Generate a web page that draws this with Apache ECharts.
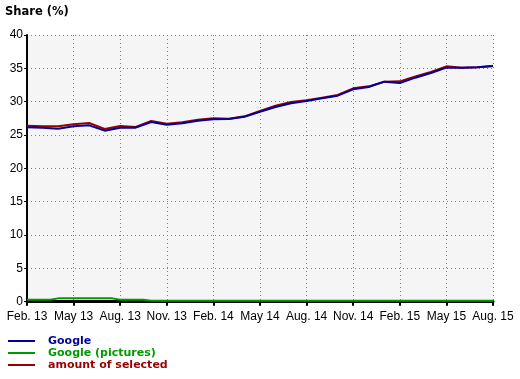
<!DOCTYPE html>
<html>
<head>
<meta charset="utf-8">
<script src="https://cdn.jsdelivr.net/npm/echarts@6/dist/echarts.min.js"></script>
<style>
html,body{margin:0;padding:0;background:#fff;}
#chart{width:520px;height:379px;}
</style>
</head>
<body>
<div id="chart"></div>
<script>
var months = ['Feb. 13','Mar. 13','Apr. 13','May 13','Jun. 13','Jul. 13','Aug. 13','Sep. 13','Oct. 13','Nov. 13','Dec. 13','Jan. 14',
  'Feb. 14','Mar. 14','Apr. 14','May 14','Jun. 14','Jul. 14','Aug. 14','Sep. 14','Oct. 14','Nov. 14','Dec. 14','Jan. 15',
  'Feb. 15','Mar. 15','Apr. 15','May 15','Jun. 15','Jul. 15','Aug. 15'];
var google = [26.15,26.1,25.95,26.3,26.45,25.65,26.1,26.1,26.95,26.55,26.75,27.15,
  27.35,27.4,27.75,28.5,29.2,29.75,30.1,30.5,30.9,31.85,32.2,33.0,
  32.8,33.6,34.3,35.1,35.1,35.15,35.35];
var googlePictures = [0.3,0.3,0.5,0.5,0.5,0.5,0.3,0.3,0.15,0.15,0.15,0.15,
  0.15,0.15,0.15,0.15,0.15,0.15,0.15,0.15,0.15,0.15,0.15,0.15,
  0.15,0.15,0.15,0.15,0.15,0.15,0.15];
var amountSelected = [26.4,26.3,26.3,26.6,26.8,25.9,26.35,26.2,27.1,26.7,26.9,27.3,
  27.5,27.45,27.8,28.6,29.4,29.95,30.2,30.6,31.0,32.0,32.3,33.0,
  33.05,33.8,34.45,35.3,35.1,35.15,35.35];
var seriesNames = ['Google','Google (pictures)','amount of selected'];
var seriesColors = ['#000099','#009900','#990000'];
var yTicks = [0,5,10,15,20,25,30,35,40];

var chart = echarts.init(document.getElementById('chart'), null, {renderer:'canvas'});
var gridDot = {color:'#808080', width:1, type:[1,3]};
chart.setOption({
  animation:false,
  backgroundColor:'#ffffff',
  title:{text:'Share (%)', left:5, top:6, padding:0,
    textStyle:{fontFamily:'DejaVu Sans', fontWeight:'bold', fontSize:11.5, color:'#000'}},
  legend:{
    orient:'vertical', left:8, top:335, padding:0, height:60, itemGap:0, itemWidth:27, itemHeight:2,
    icon:'rect', selectedMode:false,
    textStyle:{fontFamily:'DejaVu Sans', fontWeight:'bold', fontSize:11, lineHeight:12, padding:[0,0,0,8]},
    data:seriesNames.map(function(n,i){return {name:n, textStyle:{color:seriesColors[i]}};})
  },
  grid:{left:27, right:27, top:35, bottom:77.3, show:true, backgroundColor:'#f5f5f5', borderWidth:0},
  xAxis:{
    type:'category', data:months, boundaryGap:false, offset:3,
    axisLine:{lineStyle:{color:'#000', width:3}},
    axisTick:{show:true, interval:2, length:4, lineStyle:{color:'#000', width:2}},
    axisLabel:{interval:2, margin:6, color:'#000', fontFamily:'Liberation Sans', fontSize:12},
    splitLine:{show:true, interval:2, lineStyle:gridDot}
  },
  yAxis:{
    type:'value', min:yTicks[0], max:yTicks[yTicks.length-1], interval:5,
    axisLine:{show:true, lineStyle:{color:'#000', width:2}},
    axisTick:{show:true, length:3, lineStyle:{color:'#000', width:1}},
    axisLabel:{margin:4, color:'#000', fontFamily:'Liberation Sans', fontSize:12},
    splitLine:{show:true, lineStyle:gridDot}
  },
  series:[
    {name:seriesNames[0], type:'line', data:google, symbol:'none', z:4,
      lineStyle:{color:seriesColors[0], width:2}, itemStyle:{color:seriesColors[0]}},
    {name:seriesNames[1], type:'line', data:googlePictures, symbol:'none', step:'middle', z:3,
      lineStyle:{color:seriesColors[1], width:2}, itemStyle:{color:seriesColors[1]}},
    {name:seriesNames[2], type:'line', data:amountSelected, symbol:'none', z:2,
      lineStyle:{color:seriesColors[2], width:2}, itemStyle:{color:seriesColors[2]}}
  ]
});
</script>
</body>
</html>
